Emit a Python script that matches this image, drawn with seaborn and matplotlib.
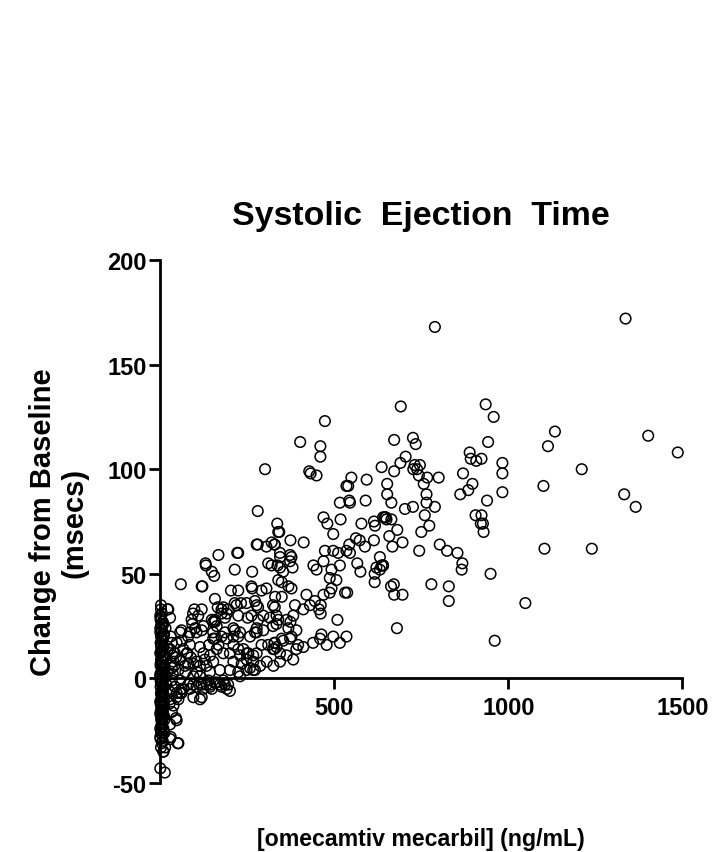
import numpy as np
import pandas as pd
import matplotlib
matplotlib.use("Agg")
import matplotlib.pyplot as plt
import seaborn as sns

# dense column of subjects with ~zero concentration (placebo / predose)
conc_zero = [2, 5, 1, 7, 3, 0, 4, 8, 2, 6, 1, 3, 5, 0, 7, 2, 4, 1, 6, 3,
             0, 5, 2, 8, 1, 4, 3, 6, 0, 2, 5, 1, 7, 3, 4, 0, 2, 6, 1, 5,
             1, 4, 0, 6, 3, 2, 7, 1, 5, 0, 3, 6, 2, 4, 1, 8, 0, 3, 5, 2,
             9, 4, 11, 6, 10, 3, 12, 7, 9, 5, 11, 2, 10, 8, 12, 4, 9, 6, 11, 3,
             0, 10, 2, 9, 4, 12, 1, 8, 6, 10, 3, 11, 5, 9, 0, 7, 2, 12, 4, 10]
chg_zero = [33, 31, 29, 27, 26, 24, 23, 21, 20, 18, 17, 15, 14, 12, 11, 9, 8, 6, 5, 3,
            2, 0, -1, -3, -4, -6, -8, -9, -11, -13, -14, -16, -18, -20, -22, -24, -26, -27, -29, -31,
            28, 25, 22, 19, 16, 13, 10, 7, 4, 1, -2, -5, -7, -10, -12, -15, -17, -19, -23, -25,
            26, 23, 21, 18, 15, 13, 10, 8, 5, 3, 1, -2, -4, -7, -9, -12, -14, -17, -20, -23,
            30, 20, 16, 11, 6, 2, -1, -5, -8, -11, -15, -18, -21, -24, -28, -30, -33, -26, -19, -13]

# low concentrations (0 - 300 ng/mL)
conc_low = [21, 28, 59, 119, 130, 148, 155, 167, 214, 224, 264, 280, 305, 329, 344, 310, 337, 203, 224, 262,
            264, 291, 305, 157, 165, 181, 176, 98, 119, 109, 94, 90, 157, 152, 162, 186, 191, 214, 232, 272,
            277, 281, 251, 224, 214, 224, 210, 262, 281, 277, 272, 296, 315, 329, 339, 324, 57, 61, 80, 100,
            104, 119, 148, 152, 157, 176, 186, 167, 210, 224, 239, 253, 267, 277, 329, 334, 344, 353, 291, 310,
            324, 200, 181, 157, 138, 234, 258, 272, 267, 224, 248, 191, 200, 171, 143, 119, 80, 61, 119, 114,
            47, 28, 52, 28, 9, 0, 13, 57, 66, 85, 104, 143, 162, 176, 186, 148, 123, 95, 52, 38,
            33, 2, 23, 85, 33, 47, 28, 42, 76, 18, 38, 57, 33, 52, 71, 95, 114, 18, 33, 57,
            42, 61, 47, 28, 47, 80, 104, 133, 152, 171, 143, 114, 95, 114, 95, 133, 195, 124, 143, 162,
            181, 200, 210, 229, 248, 85, 114, 152, 191, 210, 229, 258, 277, 296, 124, 157, 176, 195, 219, 248,
            229, 248, 267, 287, 306, 325, 344, 363, 382, 391, 280, 277, 221, 131, 121, 9, 45, 50, 30, 14,
            20, 35, 25, 40, 15, 30, 22, 45, 18, 36, 27, 66, 72, 88, 62, 105, 78, 92, 128, 140]
chg_low = [33, 29, 45, 44, 55, 51, 49, 59, 52, 60, 51, 64, 63, 64, 60, 55, 54, 42, 42, 44,
           43, 42, 43, 38, 34, 34, 33, 33, 33, 30, 31, 28, 28, 27, 25, 29, 31, 36, 36, 37,
           35, 34, 29, 30, 23, 20, 24, 30, 28, 24, 22, 30, 29, 34, 28, 25, 22, 23, 20, 24,
           22, 23, 28, 22, 19, 20, 22, 16, 16, 14, 14, 12, 11, 12, 17, 15, 12, 18, 16, 16,
           14, 4, -1, -2, -1, 7, 5, 4, 8, 3, 9, -5, -6, -3, -4, -3, -3, -7, -9, -10,
           -20, -22, -31, -29, -35, -43, -45, -7, -5, -5, -4, -3, -2, -4, -3, -5, -5, -9, -10, -13,
           -16, 35, 33, 22, 17, 17, 14, 12, 12, 9, 8, 9, 5, 4, 6, 7, 6, 1, -1, -1,
           -4, -5, -7, -10, -9, 7, 8, 6, 8, 4, 3, 1, 1, -2, -3, -3, -3, 12, 11, 14,
           12, 12, 8, 11, 12, 16, 15, 19, 19, 20, 22, 20, 22, 23, 25, 27, 31, 33, 35, 36,
           1, 4, 4, 6, 8, 6, 8, 11, 9, 14, 80, 64, 60, 54, 44, -35, -19, -31, -28, -33,
           3, 11, -6, 6, 24, 20, 14, 10, -3, 2, -12, 14, 3, 10, 18, 3, 12, 26, 9, 16]

# mid concentrations (300 - 650 ng/mL)
conc_mid = [473, 402, 460, 460, 301, 428, 432, 449, 535, 549, 540, 593, 516, 543, 545, 590, 469, 480, 518, 497,
            578, 614, 617, 650, 336, 339, 342, 374, 412, 320, 328, 562, 573, 614, 543, 535, 545, 588, 473, 497,
            511, 373, 377, 344, 440, 449, 469, 492, 516, 506, 487, 566, 621, 631, 640, 616, 575, 616, 320, 344,
            353, 373, 380, 339, 349, 368, 377, 330, 349, 324, 420, 444, 461, 469, 487, 492, 531, 537, 456, 461,
            430, 411, 387, 382, 374, 363, 391, 377, 334, 334, 368, 373, 396, 328, 328, 349, 509, 463, 411, 439,
            459, 478, 497, 516, 535, 645, 631, 636, 640]
chg_mid = [123, 113, 111, 106, 100, 99, 98, 97, 92, 96, 92, 95, 84, 85, 84, 85, 77, 74, 76, 69,
           74, 75, 73, 76, 74, 70, 70, 66, 65, 65, 64, 67, 66, 66, 64, 61, 60, 63, 61, 61,
           60, 59, 58, 58, 54, 52, 56, 52, 54, 47, 48, 55, 53, 52, 54, 50, 51, 46, 54, 53,
           51, 56, 53, 47, 46, 44, 43, 39, 39, 35, 40, 37, 35, 40, 41, 43, 41, 41, 33, 31,
           35, 33, 35, 30, 27, 28, 23, 20, 30, 26, 24, 19, 16, 17, 14, 19, 28, 21, 15, 17,
           19, 16, 20, 17, 20, 77, 58, 54, 54]

# upper concentrations (650 - 900 ng/mL)
conc_up = [789, 691, 672, 726, 734, 705, 690, 636, 672, 731, 746, 738, 727, 743, 767, 800, 757, 765, 765, 789,
           760, 773, 750, 726, 703, 870, 897, 885, 862, 906, 921, 652, 652, 664, 640, 648, 664, 681, 658, 667,
           696, 744, 803, 824, 854, 868, 866, 671, 663, 672, 696, 779, 829, 829, 680, 908, 892, 889]
chg_up = [168, 130, 114, 115, 112, 106, 103, 101, 99, 102, 102, 100, 100, 97, 96, 96, 93, 88, 84, 82,
          78, 73, 70, 82, 81, 98, 93, 90, 88, 78, 74, 93, 88, 84, 77, 77, 76, 71, 68, 63,
          65, 61, 64, 61, 60, 55, 52, 45, 44, 40, 40, 45, 44, 37, 24, 104, 105, 108]

# high concentrations (> 900 ng/mL)
conc_high = [1337, 1402, 1487, 1211, 1333, 1366, 1240, 935, 958, 1134, 942, 1114, 923, 983, 983, 1101, 939, 983, 923, 927,
             929, 1104, 949, 1049, 961]
chg_high = [172, 116, 108, 100, 88, 82, 62, 131, 125, 118, 113, 111, 105, 103, 98, 92, 85, 89, 78, 74,
            70, 62, 50, 36, 18]

xticks = [500, 1000, 1500]
yticks = [-50, 0, 50, 100, 150, 200]

df = pd.DataFrame({
    "conc": conc_zero + conc_low + conc_mid + conc_up + conc_high,
    "chg": chg_zero + chg_low + chg_mid + chg_up + chg_high,
})

sns.set_style("ticks")
plt.rcParams["font.family"] = ["Liberation Sans", "DejaVu Sans"]
plt.rcParams["font.weight"] = "bold"
plt.rcParams["axes.unicode_minus"] = False
plt.rcParams["text.color"] = "black"
plt.rcParams["axes.labelcolor"] = "black"
plt.rcParams["xtick.color"] = "black"
plt.rcParams["ytick.color"] = "black"
plt.rcParams["axes.edgecolor"] = "black"

fig = plt.figure(figsize=(7.14, 8.53), dpi=100)
ax = fig.add_axes([0.2245, 0.0809, 0.7311, 0.6131])

sns.scatterplot(data=df, x="conc", y="chg", ax=ax, marker="o", s=58,
                facecolor="none", edgecolor="black", linewidth=1.1,
                clip_on=False, legend=False)

# axis layout: y axis on the left, x axis crossing at zero
ax.spines["top"].set_visible(False)
ax.spines["right"].set_visible(False)
ax.spines["bottom"].set_position(("data", 0))
ax.spines["left"].set_linewidth(2)
ax.spines["bottom"].set_linewidth(2)

ax.set_xlim(0, 1500)
ax.set_ylim(-50, 200)
ax.set_xticks(xticks)
ax.set_yticks(yticks)
ax.tick_params(axis="both", length=8, width=2, color="black",
               labelsize=17, labelcolor="black")
ax.tick_params(axis="y", pad=2)
ax.tick_params(axis="x", pad=5)
for lbl in ax.get_xticklabels() + ax.get_yticklabels():
    lbl.set_fontweight("bold")

ax.set_xlabel("[omecamtiv mecarbil] (ng/mL)", fontsize=16.7, fontweight="bold", color="black")
ax.xaxis.set_label_coords(0.5, -0.085)
ax.set_ylabel("Change from Baseline\n(msecs)", fontsize=21, fontweight="bold",
              linespacing=1.15, color="black")
ax.yaxis.set_label_coords(-0.138, 0.5)
ax.set_title("Systolic  Ejection  Time", fontsize=24.4, fontweight="bold",
             color="black", pad=26)

plt.savefig("out.png", dpi=100)
